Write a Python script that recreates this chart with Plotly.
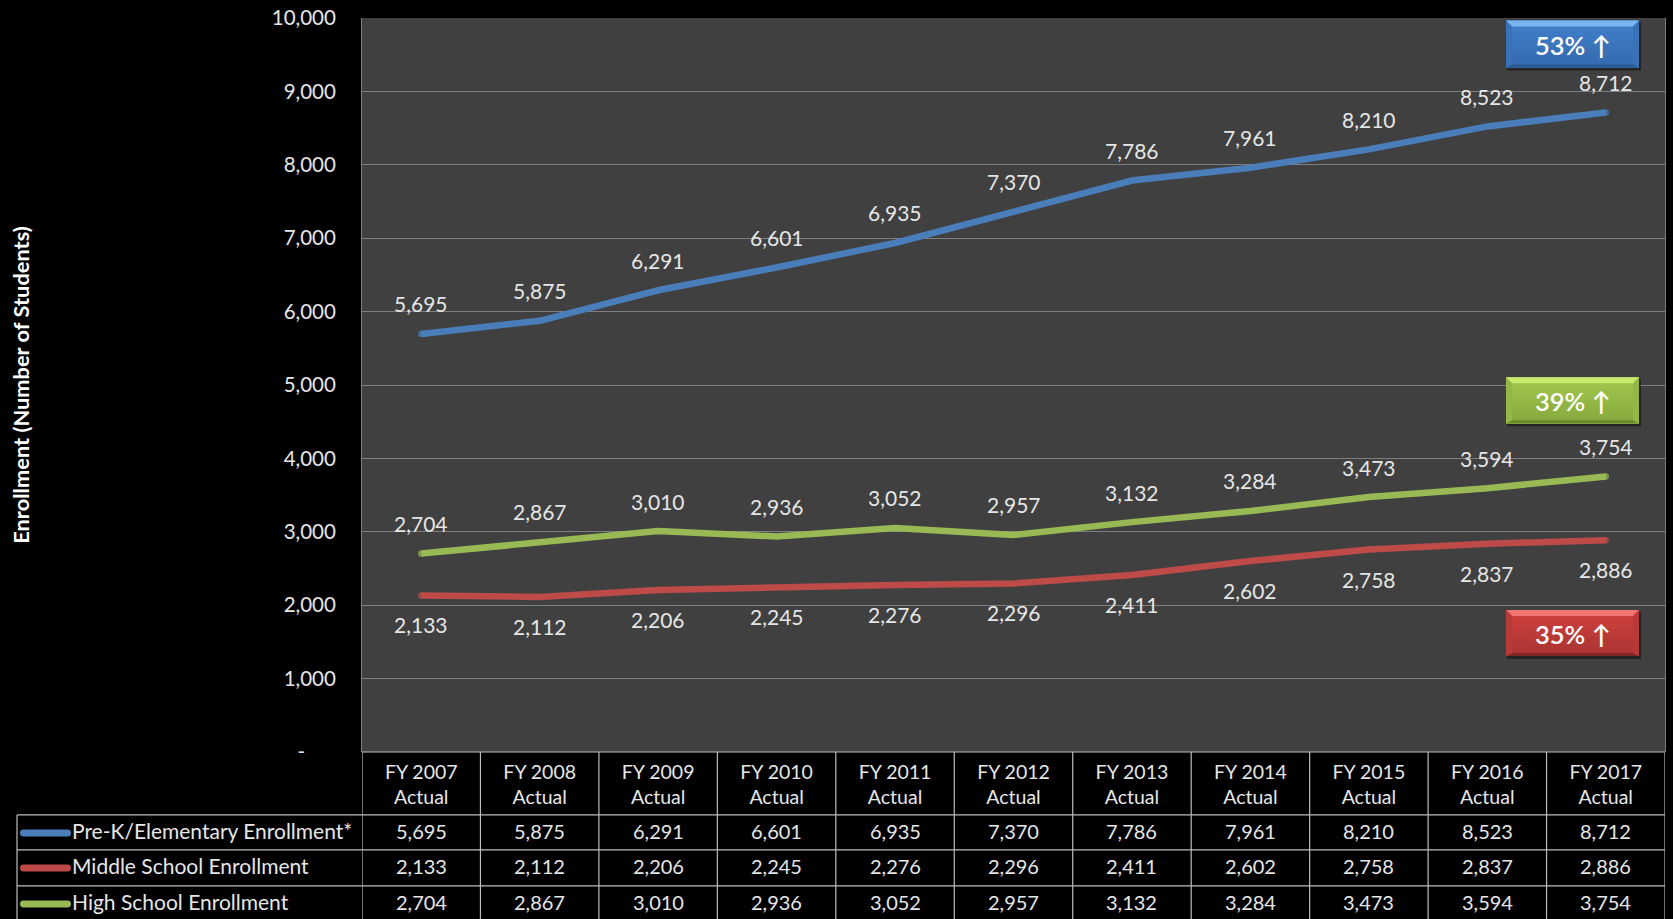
import plotly.graph_objects as go

categories = ["FY 2007", "FY 2008", "FY 2009", "FY 2010", "FY 2011", "FY 2012",
              "FY 2013", "FY 2014", "FY 2015", "FY 2016", "FY 2017"]
elementary = [5695, 5875, 6291, 6601, 6935, 7370, 7786, 7961, 8210, 8523, 8712]
middle = [2133, 2112, 2206, 2245, 2276, 2296, 2411, 2602, 2758, 2837, 2886]
high = [2704, 2867, 3010, 2936, 3052, 2957, 3132, 3284, 3473, 3594, 3754]
y_ticks = [0, 1000, 2000, 3000, 4000, 5000, 6000, 7000, 8000, 9000, 10000]
y_tick_labels = ["-\u2003\u2003", "1,000", "2,000", "3,000", "4,000", "5,000", "6,000", "7,000", "8,000", "9,000", "10,000"]

W, H = 1673, 919
L, R, T, B = 362, 1665, 17.5, 752
FONT = "Lato"
TEXT = "#e6e6e6"
LINE = "#bdbdbd"
GRID = "#7f7f7f"


def px(x):
    return (x - L) / (R - L)


def py(y):
    return 1 - (y - T) / (B - T)


series = [
    ("Pre-K/Elementary Enrollment*", elementary, "#4a7ebb", 30, 833),
    ("Middle School Enrollment", middle, "#be4b48", -29.5, 868),
    ("High School Enrollment", high, "#98b954", 30, 904),
]

fig = go.Figure()
shapes, annotations = [], []
n = len(categories)
positions = list(range(n))

for name, values, color, shift, row_y in series:
    fig.add_trace(go.Scatter(
        x=positions, y=values, mode="lines+markers", name=name, showlegend=False,
        line=dict(color=color, width=6.5),
        marker=dict(color=color, size=[6.5] + [0] * (n - 2) + [6.5], line=dict(width=0)),
        hoverinfo="skip",
    ))
    for i, v in zip(positions, values):
        annotations.append(dict(x=i, y=v, xref="x", yref="y", yshift=shift, text=f"{v:,}", showarrow=False,
                                xanchor="center", yanchor="middle",
                                font=dict(family=FONT, size=21, color=TEXT)))
        annotations.append(dict(x=i, y=py(row_y - 2), xref="x", yref="paper", text=f"{v:,}", showarrow=False,
                                xanchor="center", yanchor="middle",
                                font=dict(family=FONT, size=20, color=TEXT)))
    annotations.append(dict(x=px(70), y=py(row_y - 2), xref="paper", yref="paper", xanchor="left", yanchor="middle",
                            text=name, showarrow=False, font=dict(family=FONT, size=21, color=TEXT)))
    # rounded legend key
    x0, x1, r = 20, 71, 3.5
    a, b, c, d = px(x0), px(x0 + r), px(x1 - r), px(x1)
    t, m, e = py(row_y - r), py(row_y), py(row_y + r)
    shapes.append(dict(type="path", xref="paper", yref="paper", fillcolor=color, line=dict(width=0),
                       path=f"M {b} {t} L {c} {t} Q {d} {t} {d} {m} Q {d} {e} {c} {e} L {b} {e} Q {a} {e} {a} {m} Q {a} {t} {b} {t} Z"))

# data-table grid
for k in range(n + 1):
    shapes.append(dict(type="line", xref="x", yref="paper", x0=k - 0.5, x1=k - 0.5, y0=py(B), y1=py(H),
                       line=dict(color=LINE, width=1.2)))
for y, left in [(B, L), (815, 17), (850, 17), (886, 17)]:
    shapes.append(dict(type="line", xref="paper", yref="paper", x0=px(left), x1=px(R), y0=py(y), y1=py(y),
                       line=dict(color=LINE, width=1.2)))
shapes.append(dict(type="line", xref="paper", yref="paper", x0=px(17), x1=px(17), y0=py(815), y1=py(H),
                   line=dict(color=LINE, width=1.2)))


def lerp(c1, c2, t):
    a = [int(c1[i:i + 2], 16) for i in (1, 3, 5)]
    b = [int(c2[i:i + 2], 16) for i in (1, 3, 5)]
    return "#" + "".join(f"{round(p + (q - p) * t):02x}" for p, q in zip(a, b))


def badge(y0, y1, text, top_hi, mid_hi, mid_lo, side, bot):
    x0, x1, bev = 1506, 1639, 6
    rect = lambda a, b, c, d, col, op=1: dict(type="rect", xref="paper", yref="paper", layer="above",
                                               x0=px(a), x1=px(b), y0=py(c), y1=py(d), fillcolor=col,
                                               opacity=op, line=dict(width=0))
    poly = lambda pts, col: dict(type="path", xref="paper", yref="paper", layer="above", fillcolor=col,
                                 line=dict(width=0),
                                 path="M " + " L ".join(f"{px(p)} {py(q)}" for p, q in pts) + " Z")
    out = [rect(x0 + 1, x1 + 2, y0 + 2, y1 + 3, "#000000", 0.45)]
    steps = 12
    for s in range(steps):
        ya = y0 + (y1 - y0) * s / steps
        out.append(rect(x0, x1, ya, y1, lerp(mid_hi, mid_lo, s / (steps - 1))))
    out.append(poly([(x0, y0), (x1, y0), (x1 - bev, y0 + bev), (x0 + bev, y0 + bev)], top_hi))
    out.append(poly([(x0, y1), (x1, y1), (x1 - bev, y1 - 3), (x0 + bev, y1 - 3)], bot))
    out.append(poly([(x0, y0), (x0 + bev, y0 + bev), (x0 + bev, y1 - 3), (x0, y1)], side))
    out.append(poly([(x1, y0), (x1 - bev, y0 + bev), (x1 - bev, y1 - 3), (x1, y1)], side))
    shapes.extend(out)
    annotations.append(dict(x=px((x0 + x1) / 2), y=py((y0 + y1) / 2 + 1), xref="paper", yref="paper", text=text,
                            xanchor="center", yanchor="middle", showarrow=False,
                            font=dict(family=FONT, size=25.5, color="#ffffff", weight=600)))


badge(20, 67, "53% ↑", "#79b6f2", "#4080cb", "#356aae", "#3a72b8", "#2a578f")
badge(377, 423, "39% ↑", "#c6ea6a", "#a2c84e", "#86a93e", "#93b845", "#6a8a2e")
badge(610, 656, "35% ↑", "#f27472", "#d0403c", "#a93533", "#b83a38", "#7f2524")

fig.update_layout(
    width=W, height=H, autosize=False,
    margin=dict(l=L, r=W - R, t=T, b=H - B, pad=0),
    paper_bgcolor="#000000", plot_bgcolor="#404040",
    font=dict(family=FONT, color=TEXT),
    showlegend=False, shapes=shapes, annotations=annotations,
    xaxis=dict(range=[-0.5, n - 0.5], tickmode="array", tickvals=positions,
               ticktext=[f"{c}<br>Actual" for c in categories],
               tickfont=dict(family=FONT, size=19.5, color=TEXT), showgrid=False, zeroline=False,
               showline=False, ticks="", ticklabelstandoff=6, fixedrange=True),
    yaxis=dict(range=[0, 10000], tickmode="array", tickvals=y_ticks, ticktext=y_tick_labels,
               tickfont=dict(family=FONT, size=20.5, color=TEXT), showgrid=True, gridcolor=GRID, gridwidth=1,
               zeroline=False, showline=True, linecolor=GRID, linewidth=1, mirror=True, ticks="",
               ticklabelstandoff=21, automargin=False, fixedrange=True,
               title=dict(text="<b>Enrollment (Number of Students)</b>", standoff=236,
                          font=dict(family=FONT, size=21.8, color="#ffffff"))),
)

fig.write_html("out.html", config={"displayModeBar": False},
               post_script="document.body.style.margin='0';document.body.style.overflow='hidden';")
